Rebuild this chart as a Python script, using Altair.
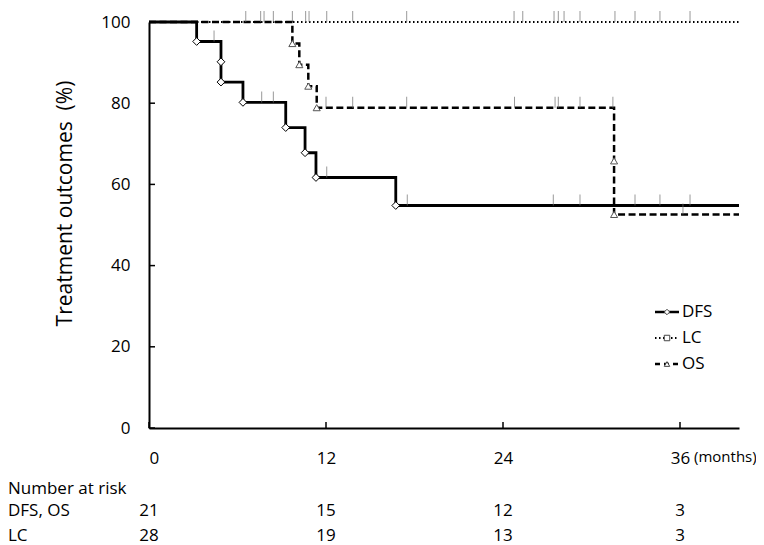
import altair as alt
import pandas as pd

# ---- data ----
months_dfs = [0, 3.23, 4.88, 4.88, 6.37, 9.27, 10.58, 11.32, 16.73, 40]
surv_dfs = [100, 95.2, 90.2, 85.2, 80.2, 74.0, 67.8, 61.7, 54.8, 54.8]
months_os = [0, 9.72, 10.19, 10.80, 11.37, 31.53, 31.53, 40]
surv_os = [100, 94.7, 89.5, 84.2, 78.9, 65.8, 52.6, 52.6]
months_lc = [0, 40]
surv_lc = [100, 100]

cens_dfs = [4.41, 7.64, 8.43, 12.05, 17.51, 27.41, 29.22, 32.95, 34.64, 36.68]
cens_os = [12.0, 13.81, 17.47, 24.78, 27.53, 27.75, 29.22, 31.45, 36.2]
cens_lc = [6.56, 7.57, 7.80, 8.43, 9.72, 10.62, 10.85, 12.05, 13.81, 17.47,
           24.75, 25.34, 27.46, 27.75, 28.14, 29.22, 31.59, 32.95, 34.64, 36.68]

risk_months = [0, 12, 24, 36]
risk_dfs_os = [21, 15, 12, 3]
risk_lc = [28, 19, 13, 3]
risk_rows = ["DFS, OS", "LC"]

x_ticks = [0, 12, 24, 36]
y_ticks = [0, 20, 40, 60, 80, 100]

series_names = ["DFS", "LC", "OS"]

FONT = "Open Sans"
W, H = 590, 406


def level(times, vals, t):
    v = vals[0]
    for tt, vv in zip(times, vals):
        if tt <= t:
            v = vv
    return v


def curve_df(times, vals):
    return pd.DataFrame({"t": times, "v": vals})


def cens_df(cens, times, vals):
    return pd.DataFrame({"t": cens, "v": [level(times, vals, c) for c in cens]})


x_enc = alt.X("t:Q", scale=alt.Scale(domain=[0, 40], nice=False),
              axis=alt.Axis(values=x_ticks, title=None, ticks=False, grid=False,
                            labelFontSize=17, labelPadding=22, labelFont=FONT,
                            labelColor="black", domainColor="black", domainWidth=2))
y_enc = alt.Y("v:Q", scale=alt.Scale(domain=[0, 100], nice=False),
              axis=alt.Axis(values=y_ticks, title="Treatment outcomes\u00a0 (%)",
                            ticks=False, grid=False, labelFontSize=17, labelPadding=19,
                            labelFont=FONT, labelColor="black", domainColor="black",
                            domainWidth=2, titleFont=FONT, titleFontSize=21,
                            titleFontWeight="normal", titleColor="black",
                            titleX=-84, titleY=181, titleAlign="center",
                            titleBaseline="middle", titleAngle=270))

layers = []

# lines (LC bottom, OS, DFS top)
layers.append(alt.Chart(curve_df(months_lc, surv_lc)).mark_line(
    interpolate="step-after", color="black", strokeWidth=2, strokeDash=[1.5, 2.5]
).encode(x=x_enc, y=y_enc))
layers.append(alt.Chart(curve_df(months_os, surv_os)).mark_line(
    interpolate="step-after", color="black", strokeWidth=2.5, strokeDash=[7, 3.5]
).encode(x=x_enc, y=y_enc))
layers.append(alt.Chart(curve_df(months_dfs, surv_dfs)).mark_line(
    interpolate="step-after", color="black", strokeWidth=2.8
).encode(x=x_enc, y=y_enc))

# censor ticks
for cens, times, vals in [(cens_lc, months_lc, surv_lc), (cens_os, months_os, surv_os),
                          (cens_dfs, months_dfs, surv_dfs)]:
    layers.append(alt.Chart(cens_df(cens, times, vals)).mark_tick(
        orient="vertical", size=11, thickness=1, color="#6e6e6e", yOffset=-5.5
    ).encode(x=x_enc, y=y_enc))

# event markers
layers.append(alt.Chart(curve_df(months_os[1:-1], surv_os[1:-1])).mark_point(
    shape="triangle-up", size=50, filled=True, fill="white", stroke="#555555",
    strokeWidth=1, opacity=1
).encode(x=x_enc, y=y_enc))
layers.append(alt.Chart(curve_df(months_dfs[1:-1], surv_dfs[1:-1])).mark_point(
    shape="diamond", size=60, filled=True, fill="white", stroke="black",
    strokeWidth=1, opacity=1
).encode(x=x_enc, y=y_enc))

# inward axis ticks
layers.append(alt.Chart(pd.DataFrame({"v": y_ticks})).mark_rule(
    color="black", strokeWidth=1.5).encode(y=y_enc, x=alt.value(0), x2=alt.value(6)))
layers.append(alt.Chart(pd.DataFrame({"t": x_ticks})).mark_rule(
    color="black", strokeWidth=1.5).encode(x=x_enc, y=alt.value(H), y2=alt.value(H - 6)))

# (months) label
layers.append(alt.Chart(pd.DataFrame({"t": [36]})).mark_text(
    text="(months)", align="left", baseline="alphabetic", dx=14, fontSize=15,
    font=FONT, color="black").encode(x=x_enc, y=alt.value(440)))

# legend
styles = {"DFS": dict(dash=None, shape="diamond", w=2.5),
          "LC": dict(dash=[1.5, 2.5], shape="square", w=2),
          "OS": dict(dash=[5, 4], shape="triangle-up", w=2.5)}
leg_y0, leg_dy = 290, 26
for i, name in enumerate(series_names):
    st = styles[name]
    yy = leg_y0 + i * leg_dy
    rule_kw = dict(color="black", strokeWidth=st["w"])
    if st["dash"]:
        rule_kw["strokeDash"] = st["dash"]
    layers.append(alt.Chart(pd.DataFrame({"s": [name]})).mark_rule(**rule_kw).encode(
        x=alt.value(506), x2=alt.value(530), y=alt.value(yy)))
    layers.append(alt.Chart(pd.DataFrame({"s": [name]})).mark_point(
        shape=st["shape"], size=30, filled=True, fill="white", stroke="#444444",
        strokeWidth=1, opacity=1).encode(x=alt.value(518), y=alt.value(yy)))
    layers.append(alt.Chart(pd.DataFrame({"s": [name]})).mark_text(
        align="left", baseline="middle", fontSize=17, font=FONT, color="black"
    ).encode(text="s:N", x=alt.value(533), y=alt.value(yy)))

# number at risk table
layers.append(alt.Chart(pd.DataFrame({"s": ["Number at risk"]})).mark_text(
    align="left", baseline="alphabetic", fontSize=17, font=FONT, color="black"
).encode(text="s:N", x=alt.value(-141), y=alt.value(472)))
row_y = [494, 519]
for name, vals, yy in zip(risk_rows, [risk_dfs_os, risk_lc], row_y):
    layers.append(alt.Chart(pd.DataFrame({"s": [name]})).mark_text(
        align="left", baseline="alphabetic", fontSize=17, font=FONT, color="black"
    ).encode(text="s:N", x=alt.value(-141), y=alt.value(yy)))
    layers.append(alt.Chart(pd.DataFrame({"t": risk_months, "n": vals})).mark_text(
        align="center", baseline="alphabetic", fontSize=17, font=FONT, color="black"
    ).encode(text="n:Q", x=x_enc, y=alt.value(yy)))

chart = alt.layer(*layers).properties(
    width=W, height=H,
    autosize=alt.AutoSizeParams(type="none"),
    padding={"left": 141, "top": 14, "right": 17, "bottom": 117},
    background="white",
).configure_view(stroke=None)

chart.save("out.html", embed_options={"renderer": "svg", "actions": False})
